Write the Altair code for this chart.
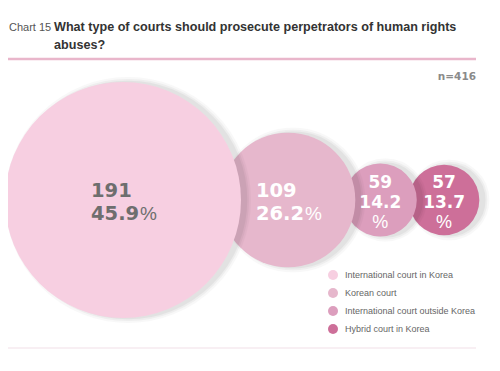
import altair as alt
import pandas as pd

# ---------------- data ----------------
labels = ["International court in Korea", "Korean court",
          "International court outside Korea", "Hybrid court in Korea"]
counts = [191, 109, 59, 57]
percents = [45.9, 26.2, 14.2, 13.7]
colors = ["#f7cfe1", "#e6b7cc", "#dc9ebd", "#cd6f99"]
n_total = 416
title_prefix = "Chart 15"
title_lines = ["What type of courts should prosecute perpetrators of human rights", "abuses?"]

# ---------------- layout ----------------
OX, OY = 8, 8            # page position of chart origin
W, H = 484, 355
PX_PER_UNIT = 118 / 191  # radius in px per respondent
OVERLAP = 0.89           # circles overlap a little
CY = 200 - OY
SANS = "Liberation Sans"

centers = []
for i, v in enumerate(counts):
    centers.append(v if i == 0 else centers[-1] + OVERLAP * (counts[i - 1] + v))

df = pd.DataFrame({
    "label": labels,
    "count": counts,
    "pct": [f"{p:.1f}" for p in percents],
    "center": centers,
})

x_d0 = (OX - 5) / PX_PER_UNIT
x_scale = alt.Scale(domain=[x_d0, x_d0 + W / PX_PER_UNIT], nice=False, zero=False)
size_scale = alt.Scale(type="pow", exponent=2, domain=[0, max(counts)],
                       range=[0, (2 * PX_PER_UNIT * max(counts)) ** 2])
color_scale = alt.Scale(domain=labels, range=colors)

base = alt.Chart(df).encode(
    x=alt.X("center:Q", scale=x_scale, axis=None),
    y=alt.value(CY),
)
size_enc = alt.Size("count:Q", scale=size_scale, legend=None)

legend = alt.Legend(
    orient="none", legendX=328 - OX, legendY=270 - OY, title=None,
    symbolType="circle", symbolSize=100, symbolStrokeWidth=0, symbolOpacity=1,
    labelFont=SANS, labelFontSize=9, labelColor="#666666",
    labelOffset=7, rowPadding=8, padding=0,
)

layers = []
for lab in reversed(labels):
    sub = base.transform_filter(alt.datum.label == lab)
    for sw, op in [(10, 0.025), (6, 0.035), (2.5, 0.045)]:
        layers.append(sub.mark_circle(color="#000000", opacity=op, stroke="#000000",
                                      strokeWidth=sw, xOffset=5, yOffset=0)
                      .encode(size=size_enc))
    layers.append(sub.mark_circle(opacity=1).encode(
        size=size_enc,
        color=alt.Color("label:N", scale=color_scale, legend=legend),
    ))

txt_color = alt.condition(f"datum.count == {max(counts)}",
                          alt.value("#6e6e6e"), alt.value("#ffffff"))
num_font = dict(font="DejaVu Sans", fontWeight="bold", baseline="alphabetic")
pct_font = dict(font=SANS, fontWeight="normal", baseline="alphabetic")

big = base.transform_filter(alt.datum.count >= 100)
small = base.transform_filter(alt.datum.count < 100)

layers += [
    big.mark_text(align="left", dx=-32, dy=-3, fontSize=19.5, **num_font)
       .encode(text="count:Q", color=txt_color),
    big.mark_text(align="left", dx=-32, dy=20, fontSize=19.5, **num_font)
       .encode(text="pct:N", color=txt_color),
    big.mark_text(align="left", dx=17, dy=20, fontSize=19, text="%", **pct_font)
       .encode(color=txt_color),
    small.mark_text(align="center", dy=-12, fontSize=17, **num_font)
         .encode(text="count:Q", color=txt_color),
    small.mark_text(align="center", dy=8, fontSize=17, **num_font)
         .encode(text="pct:N", color=txt_color),
    small.mark_text(align="center", dy=28, fontSize=18, text="%", **pct_font)
         .encode(color=txt_color),
]

one = alt.Chart(pd.DataFrame({"k": [0]}))
layers += [
    one.mark_rule(color="#e9b6cb", strokeWidth=2.5).encode(
        x=alt.value(0), x2=alt.value(476 - OX), y=alt.value(59 - OY)),
    one.mark_rule(color="#f1dfe7", strokeWidth=1).encode(
        x=alt.value(0), x2=alt.value(476 - OX), y=alt.value(348 - OY)),
    one.mark_text(text=title_prefix, align="left", baseline="alphabetic",
                  font=SANS, fontSize=11, color="#555555").encode(
        x=alt.value(1), y=alt.value(31 - OY)),
    one.mark_text(text=title_lines, align="left", baseline="alphabetic", lineHeight=18,
                  font=SANS, fontWeight="bold", fontSize=12.6,
                  color="#333333").encode(
        x=alt.value(54 - OX), y=alt.value(31 - OY)),
    one.mark_text(text=f"n={n_total}", align="right", baseline="alphabetic",
                  font="DejaVu Sans", fontWeight="bold", fontSize=10.5,
                  color="#8a8a8a").encode(
        x=alt.value(476 - OX), y=alt.value(80 - OY)),
]

chart = alt.layer(*layers).properties(
    width=W, height=H, padding=0, autosize=alt.AutoSizeParams(type="none")
).configure_view(stroke=None)

chart.save("out.html", embed_options={"renderer": "svg", "actions": False})
